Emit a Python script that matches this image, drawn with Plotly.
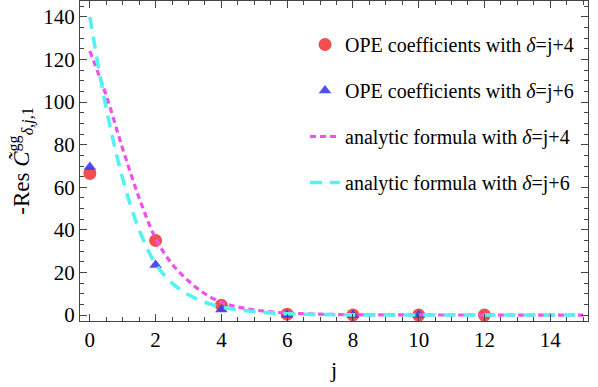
import numpy as np
import plotly.graph_objects as go

# OPE coefficient points
j_ope4 = [0, 2, 4, 6, 8, 10, 12]
res_ope4 = [66.5, 35.0, 4.6, 0.4, 0.05, 0.0, 0.0]
j_ope6 = [0, 2, 4, 6, 8, 10]
res_ope6 = [69.5, 23.5, 2.6, 0.1, 0.0, 0.0]

# analytic curves
j_curve = [0, 0.5, 1, 1.5, 2, 2.5, 3, 3.5, 4, 4.5, 5, 5.5, 6, 6.5, 7, 7.5, 8,
           9, 10, 11, 12, 13, 14, 15]
res_an4 = [124, 103, 78, 55, 36, 24, 16, 10, 6.0, 3.8, 2.4, 1.5, 0.9, 0.6, 0.4,
           0.25, 0.15, 0.08, 0.04, 0.02, 0.01, 0.0, 0.0, 0.0]
res_an6 = [140, 97, 64, 40, 24, 15, 9.5, 6.0, 3.8, 2.5, 1.6, 1.0, 0.6, 0.4, 0.25,
           0.15, 0.1, 0.05, 0.02, 0.01, 0.0, 0.0, 0.0, 0.0]

serif = "Liberation Serif, Times New Roman, Times, serif"

fig = go.Figure()
fig.add_trace(go.Scatter(x=j_ope4, y=res_ope4, mode="markers",
                         name="OPE coefficients with <i>δ</i>=j+4", legendgroup="a",
                         marker=dict(symbol="circle", size=13, color="#F03C3C", opacity=0.9)))
fig.add_trace(go.Scatter(x=j_ope6, y=res_ope6, mode="markers",
                         name="OPE coefficients with <i>δ</i>=j+6", legendgroup="b",
                         marker=dict(symbol="triangle-up", size=11, color="#3C3CF0", opacity=0.9)))
fig.add_trace(go.Scatter(x=j_curve, y=res_an4, mode="lines", line_shape="spline",
                         name="analytic formula with <i>δ</i>=j+4", legendgroup="c",
                         line=dict(color="#F050F0", width=3.2, dash="6px,4px")))
fig.add_trace(go.Scatter(x=j_curve, y=res_an6, mode="lines", line_shape="spline",
                         name="analytic formula with <i>δ</i>=j+6", legendgroup="d",
                         line=dict(color="#55F2F2", width=3.6, dash="12px,8px")))

axis_common = dict(showline=True, linecolor="#444", linewidth=1.3, mirror="allticks",
                   ticks="inside", ticklen=7, tickwidth=1.2, tickcolor="#444", showgrid=False,
                   zeroline=False, automargin=False,
                   tickfont=dict(family=serif, size=21, color="black"))

fig.update_xaxes(range=[-0.3, 15.15], tick0=0, dtick=2,
                 minor=dict(dtick=0.5, ticks="inside", ticklen=4, tickwidth=1, tickcolor="#444"),
                 title=dict(text="j", font=dict(family=serif, size=22, color="black"), standoff=10),
                 **axis_common)
fig.update_yaxes(range=[-2.8, 147.5], tick0=0, dtick=20,
                 minor=dict(dtick=5, ticks="inside", ticklen=4, tickwidth=1, tickcolor="#444"),
                 title=dict(text="-Res <i>C̃</i><sup>gg</sup><sub><i>δ</i>,<i>j</i>,1</sub>",
                            font=dict(family=serif, size=23, color="black"), standoff=7),
                 **axis_common)

fig.update_layout(
    width=598, height=387,
    margin=dict(l=80, r=10, t=1, b=66, autoexpand=False),
    plot_bgcolor="white", paper_bgcolor="white",
    legend=dict(x=0.443, y=0.925, xanchor="left", yanchor="top",
                bgcolor="rgba(0,0,0,0)", tracegroupgap=17,
                font=dict(family=serif, size=20, color="black")),
)

# drop the page's default body margin so the figure sits at the window's corner
fig.write_html("out.html", config={"displayModeBar": False},
               post_script="document.body.style.margin='0';")
